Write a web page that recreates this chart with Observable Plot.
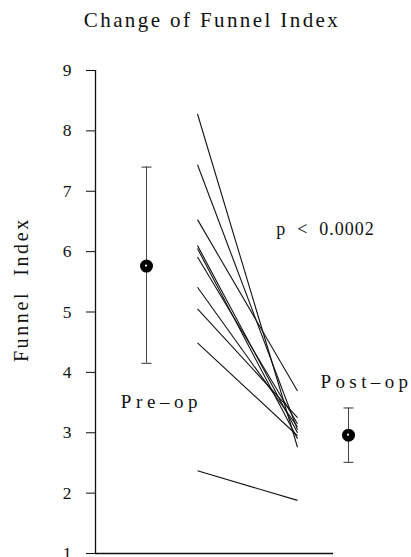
<!DOCTYPE html>
<html>
<head>
<meta charset="utf-8">
<script src="https://cdn.jsdelivr.net/npm/d3@7"></script>
<script src="https://cdn.jsdelivr.net/npm/@observablehq/plot@0.6"></script>
<style>
  html, body { margin: 0; padding: 0; background: #fff; }
</style>
</head>
<body>
<div id="chart"></div>
<script>
// ---- data ----
const titleText = "Change of Funnel Index";
const yLabel = "Funnel  Index";
const yTicks = [1, 2, 3, 4, 5, 6, 7, 8, 9];

// individual patients (pre-op -> post-op)
const preValues  = [8.28, 7.44, 6.53, 6.10, 6.05, 5.91, 5.41, 5.05, 4.49, 2.37];
const postValues = [2.76, 3.05, 3.69, 3.00, 2.90, 3.15, 3.10, 3.25, 2.95, 1.88];
const linePositions = [1.51, 2.51];

// group summaries (mean ± SD)
const groupNames = ["Pre-op", "Post-op"];
const groupX = [1.0, 3.02];
const groupMean = [5.76, 2.96];
const groupHigh = [7.40, 3.41];
const groupLow = [4.15, 2.51];

// annotations
const noteText = ["Pre\u2013op", "Post\u2013op", "p  <  0.0002"];
const noteX = [1.15, 3.20, 2.79];
const noteY = [3.51, 3.84, 6.37];
const noteSize = [19, 19, 18];
const noteSpacing = ["4.6px", "4.4px", "1px"];

// axis-label anchor (data coordinates)
const yLabelX = -0.19;
const yLabelY = 5.37;

// ---- build tables ----
const pairs = preValues.map((v, i) => ({pre: v, post: postValues[i]}));
const groups = groupNames.map((g, i) => ({name: g, x: groupX[i], mean: groupMean[i], hi: groupHigh[i], lo: groupLow[i]}));
const caps = groups.flatMap(g => [{x: g.x, y: g.hi}, {x: g.x, y: g.lo}]);
const notes = noteText.map((t, i) => ({t, x: noteX[i], y: noteY[i], s: noteSize[i]}));

const capSymbol = {draw(ctx) { ctx.moveTo(-5, 0); ctx.lineTo(5, 0); }};
const font = "Liberation Serif, Times New Roman, serif";

const chart = Plot.plot({
  width: 411,
  height: 557,
  marginLeft: 95,
  marginRight: 78,
  marginTop: 70,
  marginBottom: 4,
  style: {fontFamily: font, color: "#111", background: "#fff", overflow: "visible"},
  x: {domain: [0.49, 2.87], axis: null},
  y: {domain: [1, 9], axis: null},
  marks: [
    Plot.ruleY([1], {stroke: "#111", strokeWidth: 1.3}),
    Plot.ruleX([0.49], {y1: 1, y2: 9, stroke: "#111", strokeWidth: 1.3}),
    Plot.axisY({ticks: yTicks, tickSize: 9, tickPadding: 15, fontSize: 17.5, label: null, stroke: "#111"}),
    Plot.link(pairs, {x1: () => linePositions[0], x2: () => linePositions[1], y1: "pre", y2: "post", stroke: "#111", strokeWidth: 1.1}),
    Plot.ruleX(groups, {x: "x", y1: "lo", y2: "hi", stroke: "#444", strokeWidth: 1}),
    Plot.dot(caps, {x: "x", y: "y", symbol: capSymbol, stroke: "#333", fill: "none", strokeWidth: 1}),
    Plot.dot(groups, {x: "x", y: "mean", r: 6.5, fill: "#000", stroke: "none"}),
    Plot.dot(groups, {x: "x", y: "mean", r: 1.1, fill: "#fff", stroke: "none", dx: -0.5, dy: -0.5}),
    Plot.text(notes, {x: "x", y: "y", text: "t", fontSize: "s", fill: "#111"}),
    Plot.text([titleText], {frameAnchor: "top", dy: -58, dx: -2.5, fontSize: 21, fill: "#111"}),
    Plot.text([yLabel], {x: () => yLabelX, y: () => yLabelY, rotate: -90, lineAnchor: "bottom", fontSize: 20, fill: "#111"})
  ]
});

const spacing = new Map([[titleText, "2.4px"], [yLabel, "2.6px"]]);
noteText.forEach((t, i) => spacing.set(t, noteSpacing[i]));
d3.select(chart).selectAll("text").each(function() {
  const s = spacing.get(this.textContent);
  if (s) this.style.letterSpacing = s;
});
document.getElementById("chart").appendChild(chart);
</script>
</body>
</html>
